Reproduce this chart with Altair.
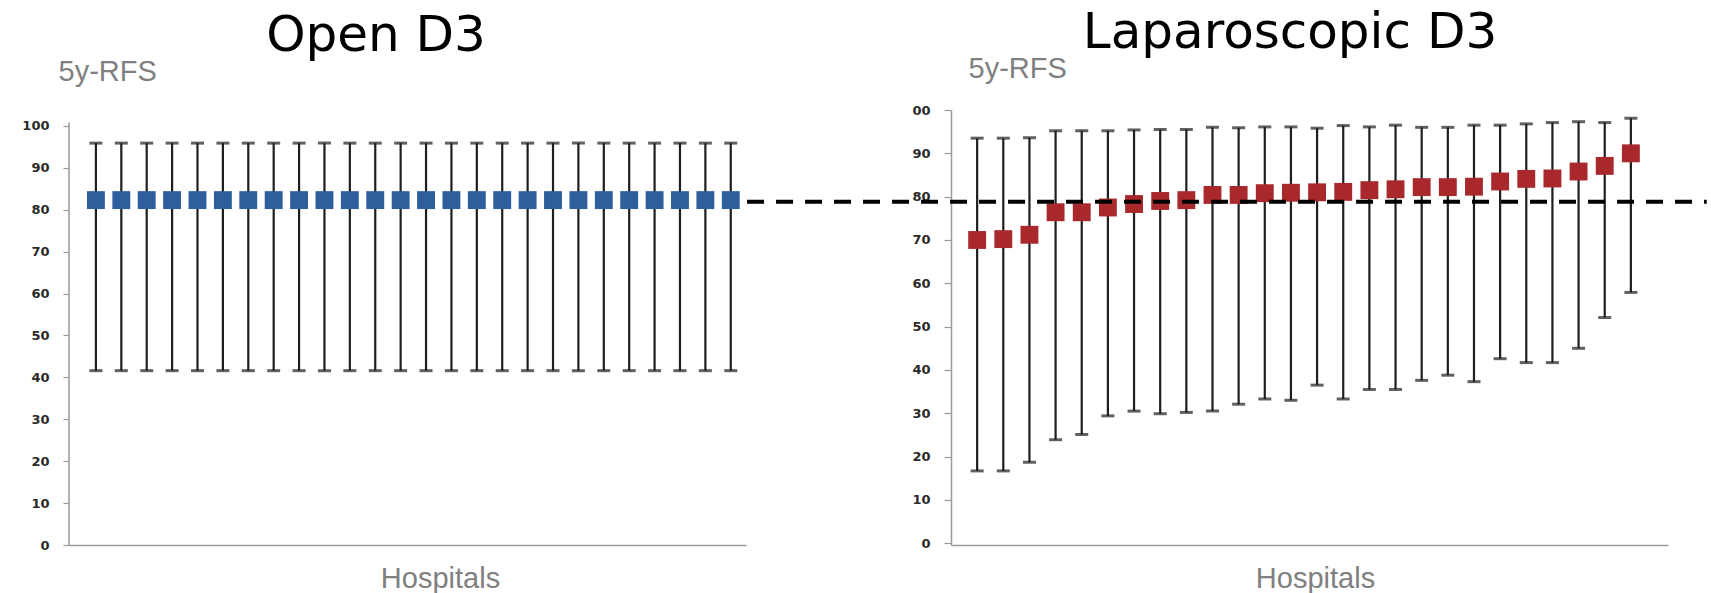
import altair as alt
import pandas as pd

# ---------------- data ----------------
hospitals = list(range(1, 27))

open_rfs = [82.3, 82.3, 82.3, 82.3, 82.3, 82.3, 82.3, 82.3, 82.3, 82.3, 82.3, 82.3, 82.3,
            82.3, 82.3, 82.3, 82.3, 82.3, 82.3, 82.3, 82.3, 82.3, 82.3, 82.3, 82.3, 82.3]
open_lo = [41.6, 41.6, 41.6, 41.6, 41.6, 41.6, 41.6, 41.6, 41.6, 41.6, 41.6, 41.6, 41.6,
           41.6, 41.6, 41.6, 41.6, 41.6, 41.6, 41.6, 41.6, 41.6, 41.6, 41.6, 41.6, 41.6]
open_hi = [95.9, 95.9, 95.9, 95.9, 95.9, 95.9, 95.9, 95.9, 95.9, 95.9, 95.9, 95.9, 95.9,
           95.9, 95.9, 95.9, 95.9, 95.9, 95.9, 95.9, 95.9, 95.9, 95.9, 95.9, 95.9, 95.9]

lap_rfs = [70.0, 70.2, 71.2, 76.4, 76.4, 77.5, 78.3, 79.0, 79.2, 80.4, 80.4, 80.8, 80.9,
           81.0, 81.1, 81.5, 81.7, 82.2, 82.2, 82.3, 83.5, 84.1, 84.2, 85.8, 87.1, 90.0]
lap_lo = [16.7, 16.7, 18.7, 23.9, 25.1, 29.4, 30.5, 29.9, 30.2, 30.5, 32.1, 33.3, 33.0,
          36.5, 33.3, 35.5, 35.5, 37.6, 38.8, 37.3, 42.6, 41.7, 41.7, 45.0, 52.1, 57.9]
lap_hi = [93.5, 93.5, 93.6, 95.2, 95.2, 95.2, 95.4, 95.5, 95.5, 96.0, 95.9, 96.1, 96.1,
          95.8, 96.4, 96.1, 96.5, 96.0, 96.0, 96.5, 96.5, 96.8, 97.1, 97.3, 97.1, 98.1]

# dashed reference line (level read on the right-hand axis), spanning from the
# end of the left panel to the right edge of the figure
ref_level = [78.8]
ref_from = [-7.8]
ref_to = [28.9]

# extent of the left panel's vertical axis line (value units)
left_axis_x = [-0.06]
left_axis_from = [0]
left_axis_to = [100.8]

y_ticks = [0, 10, 20, 30, 40, 50, 60, 70, 80, 90, 100]

panel_titles = ["Open D3", "Laparoscopic D3"]
y_title = "5y-RFS"
x_title = "Hospitals"

BLUE = "#2e5e9c"
RED = "#a8282c"
BAR = "#1e1e1e"
AXIS_GRAY = "#9a9a9a"
TEXT_GRAY = "#808080"

open_df = pd.DataFrame({"h": hospitals, "rfs": open_rfs, "lo": open_lo, "hi": open_hi})
lap_df = pd.DataFrame({"h": hospitals, "rfs": lap_rfs, "lo": lap_lo, "hi": lap_hi})
ref_df = pd.DataFrame({"x0": ref_from, "x1": ref_to, "lvl": ref_level})
axis_df = pd.DataFrame({"ax": left_axis_x, "a0": left_axis_from, "a1": left_axis_to})


def make_axes(x_dom, y_dom, title_x, y_title_x, y_title_y, label_expr, tick_size,
              label_pad, show_domain):
    x_axis = alt.Axis(title=x_title, labels=False, ticks=False, grid=False,
                      domainColor=AXIS_GRAY, domainWidth=1.5,
                      titleFont="Liberation Sans", titleFontSize=29, titleFontWeight="normal",
                      titleColor=TEXT_GRAY, titleX=title_x, titleY=42,
                      titleBaseline="alphabetic", titleAlign="center")
    y_axis = alt.Axis(title=y_title, values=y_ticks, grid=False, domain=show_domain,
                      domainColor=AXIS_GRAY, domainWidth=1.5,
                      tickColor=AXIS_GRAY, tickWidth=1.2, tickSize=tick_size,
                      labelPadding=label_pad, labelFont="DejaVu Sans", labelFontSize=13,
                      labelFontWeight="bold", labelColor="#2a2a2a", labelExpr=label_expr,
                      titleFont="Liberation Sans", titleFontSize=29, titleFontWeight="normal",
                      titleColor=TEXT_GRAY, titleAngle=0, titleAlign="left",
                      titleBaseline="alphabetic", titleX=y_title_x, titleY=y_title_y)
    xs = alt.Scale(domain=x_dom, nice=False, zero=False)
    ys = alt.Scale(domain=y_dom, nice=False, zero=False)
    return x_axis, y_axis, xs, ys


def panel(df, color, x_dom, y_dom, width, title_text, title_dx, title_x, y_title_x,
          y_title_y, label_expr, tick_size, label_pad, show_domain, extra=None):
    x_axis, y_axis, xs, ys = make_axes(x_dom, y_dom, title_x, y_title_x, y_title_y,
                                       label_expr, tick_size, label_pad, show_domain)
    X = alt.X("h:Q", scale=xs, axis=x_axis)
    base = alt.Chart(df)
    bars = base.mark_rule(color=BAR, strokeWidth=2.2).encode(
        x=X, y=alt.Y("lo:Q", scale=ys, axis=y_axis), y2="hi:Q")
    cap_lo = base.mark_tick(color=BAR, orient="horizontal", size=13, thickness=3).encode(
        x=X, y=alt.Y("lo:Q", scale=ys, axis=y_axis))
    cap_hi = base.mark_tick(color=BAR, orient="horizontal", size=13, thickness=3).encode(
        x=X, y=alt.Y("hi:Q", scale=ys, axis=y_axis))
    pts = base.mark_square(size=320, color=color, opacity=1, filled=True).encode(
        x=X, y=alt.Y("rfs:Q", scale=ys, axis=y_axis))
    layers = [bars, cap_lo, cap_hi, pts]
    if extra is not None:
        layers.append(extra(xs, ys, x_axis, y_axis))
    return alt.layer(*layers).properties(
        width=width, height=435,
        title=alt.TitleParams(title_text, font="DejaVu Sans", fontSize=50,
                              fontWeight="normal", color="black", anchor="middle",
                              dx=title_dx, dy=44, offset=0, baseline="alphabetic"))


def ref_line(xs, ys, x_axis, y_axis):
    return alt.Chart(ref_df).mark_rule(color="black", strokeWidth=4,
                                       strokeDash=[17, 12]).encode(
        x=alt.X("x0:Q", scale=xs, axis=x_axis), x2="x1:Q",
        y=alt.Y("lvl:Q", scale=ys, axis=y_axis))


def left_axis_line(xs, ys, x_axis, y_axis):
    return alt.Chart(axis_df).mark_rule(color=AXIS_GRAY, strokeWidth=1.5).encode(
        x=alt.X("ax:Q", scale=xs, axis=x_axis),
        y=alt.Y("a0:Q", scale=ys, axis=y_axis), y2="a1:Q")


left = panel(open_df, BLUE, [-0.06, 26.6], [0, 103.8], 677, panel_titles[0], -31.5,
             371, -11, -30, "datum.label", 6, 14, False, extra=left_axis_line)
right = panel(lap_df, RED, [0, 27.42], [-0.4, 100], 717, panel_titles[1], -19.5,
              364, 17, -33, "datum.value == 100 ? '00' : datum.label", 7, 14, True,
              extra=ref_line)

chart = alt.hconcat(left, right, spacing=205, bounds="flush").properties(
    padding={"left": 21, "top": 8, "right": 0, "bottom": 0},
    background="white",
).configure_view(stroke=None)

chart.save("out.html", embed_options={"renderer": "svg", "actions": False})
